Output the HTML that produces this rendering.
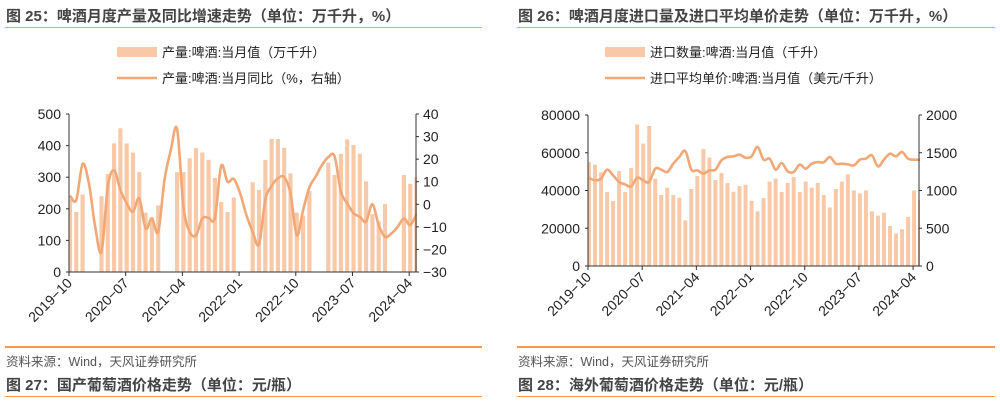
<!DOCTYPE html>
<html><head><meta charset="utf-8"><style>
body{margin:0;width:1000px;height:404px;background:#fff;overflow:hidden;font-family:"Liberation Sans","Noto Sans CJK SC",sans-serif}
.t{position:absolute;font-size:15px;font-weight:bold;color:#444;white-space:nowrap}
.src{position:absolute;font-size:12.5px;color:#555;white-space:nowrap}
.ln{position:absolute;height:0}
</style></head><body>
<div class="t" style="left:6px;top:5px">图 25：啤酒月度产量及同比增速走势（单位：万千升，%）</div>
<div class="ln" style="left:5px;top:27px;width:477px;border-top:1px solid #F0A070"></div>
<div class="t" style="left:518px;top:5px">图 26：啤酒月度进口量及进口平均单价走势（单位：万千升，%）</div>
<div class="ln" style="left:517px;top:27px;width:478px;border-top:1px solid #F0A070"></div>
<div class="ln" style="left:5px;top:346px;width:477px;border-top:2px solid #F39A4E"></div>
<div class="ln" style="left:517px;top:346px;width:478px;border-top:2px solid #F39A4E"></div>
<div class="src" style="left:6px;top:351px">资料来源：Wind，天风证券研究所</div>
<div class="src" style="left:518px;top:351px">资料来源：Wind，天风证券研究所</div>
<div class="t" style="left:6px;top:374px">图 27：国产葡萄酒价格走势（单位：元/瓶）</div>
<div class="t" style="left:518px;top:374px">图 28：海外葡萄酒价格走势（单位：元/瓶）</div>
<div class="ln" style="left:5px;top:396px;width:477px;border-top:1px solid #F39A4E"></div>
<div class="ln" style="left:517px;top:396px;width:478px;border-top:1px solid #F39A4E"></div>
<svg id="svg" width="1000" height="404" style="position:absolute;left:0;top:0"></svg>
<script>
const xTickLabels=["2019-10","2020-07","2021-04","2022-01","2022-10","2023-07","2024-04"];
const xTickIndex=[0,9,18,27,36,45,54];
const beerOutput=[230,190,245,null,null,240,310,407,455,407,378,316,188,173,211,null,null,316,316,360,392,378,355,298,221,190,236,null,null,284,260,355,421,421,393,312,188,178,256,null,null,346,307,374,420,402,374,287,183,160,215,null,null,307,279,300];
const beerYoy=[3.8,1.9,17.9,9.3,-10,-21,7.8,15,6.3,0.4,-3.3,2.6,-10.7,-6.3,-12.2,10.8,24,33.3,-1,-12.2,-13.7,-6.3,-6,-6,17,10,11.2,4.9,-4.8,-12.2,-17.7,1.9,8.1,11.5,12,4.9,-13.7,-2.6,7.5,12.3,17.4,20.9,21.2,5.6,0.4,-4,-5.5,-7.7,0.1,-9.2,-14.4,-13,-10,-6.3,-9.2,-4.3];
const leftYTicks=[0,100,200,300,400,500];
const leftY2Ticks=[-30,-20,-10,0,10,20,30,40];
const importQty=[55000,53700,49600,39200,34400,50300,39200,51900,75000,64800,74200,46300,37600,41500,37600,36200,24200,40800,47700,62000,57400,45600,49300,43900,39300,42300,43000,34500,29000,36000,44700,46300,39200,44000,47200,39200,44700,41500,44000,37600,31000,40800,44700,48600,40000,38500,40000,29000,26700,28200,21200,17200,19500,26000,40000,35000];
const importPrice=[1166,1135,1157,1276,1200,1113,1080,1055,1170,1135,1113,1289,1276,1245,1355,1444,1523,1276,1267,1223,1267,1276,1400,1444,1452,1475,1435,1452,1576,1408,1422,1276,1364,1254,1245,1342,1289,1355,1377,1373,1444,1355,1355,1347,1333,1408,1422,1466,1320,1408,1488,1452,1510,1422,1408,1408];
const rightYTicks=[0,20000,40000,60000,80000];
const rightY2Ticks=[0,500,1000,1500,2000];

const svg=document.getElementById('svg');const NS='http://www.w3.org/2000/svg';
function mk(t,a,p){const e=document.createElementNS(NS,t);for(const k in a)e.setAttribute(k,a[k]);(p||svg).appendChild(e);return e;}
function txt(x,y,s,anchor,extra,name){const e=mk('text',Object.assign({x:x,y:y,'font-size':14,fill:'#222','text-anchor':anchor,'font-family':'Liberation Sans, Noto Sans CJK SC, sans-serif'},extra||{}));e.textContent=s;return e;}
function chart(o){
  const g=mk('g',{});
  const x=i=>o.x0+o.off+i*o.w;
  const y=v=>o.yb-(v-o.ymin)/(o.ymax-o.ymin)*(o.yb-o.yt);
  const y2=v=>o.yb-(v-o.y2min)/(o.y2max-o.y2min)*(o.yb-o.yt);
  const cid='c'+o.name;const cp=mk('clipPath',{id:cid},g);mk('rect',{x:o.x0,y:o.yt-10,width:o.x1-o.x0+1,height:o.yb-o.yt+10},cp);
  const bg=mk('g',{'clip-path':'url(#'+cid+')'},g);
  o.bars.forEach((v,i)=>{if(v==null)return;const r=mk('rect',{x:x(i)-o.w*0.33,y:y(v),width:o.w*0.66,height:o.yb-y(v),fill:'#F8C9A8'},bg);});
  let d='';const pts=o.line.map((v,i)=>[x(i),y2(v)]);
  pts.forEach((p,i)=>{if(i==0){d='M'+p[0]+','+p[1];return;}const p0=pts[i-2]||pts[i-1],p1=pts[i-1],p3=pts[i+1]||p;const t=6;d+=' C'+(p1[0]+(p[0]-p0[0])/t)+','+(p1[1]+(p[1]-p0[1])/t)+' '+(p[0]-(p3[0]-p1[0])/t)+','+(p[1]-(p3[1]-p1[1])/t)+' '+p[0]+','+p[1];});
  const l=mk('path',{d:d,fill:'none',stroke:'#F2A876','stroke-width':2.6,'stroke-linejoin':'round'},bg);
  mk('line',{x1:o.x0,y1:o.yt,x2:o.x0,y2:o.yb,stroke:'#333'},g);
  mk('line',{x1:o.x1,y1:o.yt,x2:o.x1,y2:o.yb,stroke:'#333'},g);
  mk('line',{x1:o.x0,y1:o.yb,x2:o.x1,y2:o.yb,stroke:'#333'},g);
  o.yt1.forEach(v=>{mk('line',{x1:o.x0-3,y1:y(v),x2:o.x0,y2:y(v),stroke:'#333'},g);txt(o.x0-8,y(v)+5,String(v),'end',{},'y-tick-label');});
  o.yt2.forEach(v=>{mk('line',{x1:o.x1,y1:y2(v),x2:o.x1+3,y2:y2(v),stroke:'#333'},g);txt(o.x1+7,y2(v)+5,String(v).replace('-','−'),'start',{},'y2-tick-label');});
  xTickIndex.forEach((ti,k)=>{const xx=o.x0+ti*o.w;mk('line',{x1:xx,y1:o.yb,x2:xx,y2:o.yb+4,stroke:'#333'},g);txt(xx+4,o.yb+12,xTickLabels[k].replace('-','−'),'end',{transform:'rotate(-45 '+(xx+4)+' '+(o.yb+12)+')'},'x-tick-label');});
  o.leg.forEach((s,k)=>{const yy=o.ly+k*26;if(k==0){const r=mk('rect',{x:o.lx,y:yy-5,width:40,height:10,fill:'#F8C9A8'},g);}else{const r=mk('line',{x1:o.lx,y1:yy,x2:o.lx+40,y2:yy,stroke:'#F2A876','stroke-width':2.6},g);}txt(o.lx+45,yy+5,s,'start',{'font-size':13},'legend-entry');});
}
chart({name:'beer-output-chart',x0:69,x1:416,off:1,w:6.3,yt:114,yb:272,ymin:0,ymax:500,y2min:-30,y2max:40,bars:beerOutput,line:beerYoy,yt1:leftYTicks,yt2:leftY2Ticks,lx:117,ly:52,leg:['产量:啤酒:当月值（万千升）','产量:啤酒:当月同比（%，右轴）']});
chart({name:'beer-import-chart',x0:588,x1:919,off:1,w:6.02,yt:115,yb:266,ymin:0,ymax:80000,y2min:0,y2max:2000,bars:importQty,line:importPrice,yt1:rightYTicks,yt2:rightY2Ticks,lx:605,ly:52,leg:['进口数量:啤酒:当月值（千升）','进口平均单价:啤酒:当月值（美元/千升）']});
</script>
</body></html>
